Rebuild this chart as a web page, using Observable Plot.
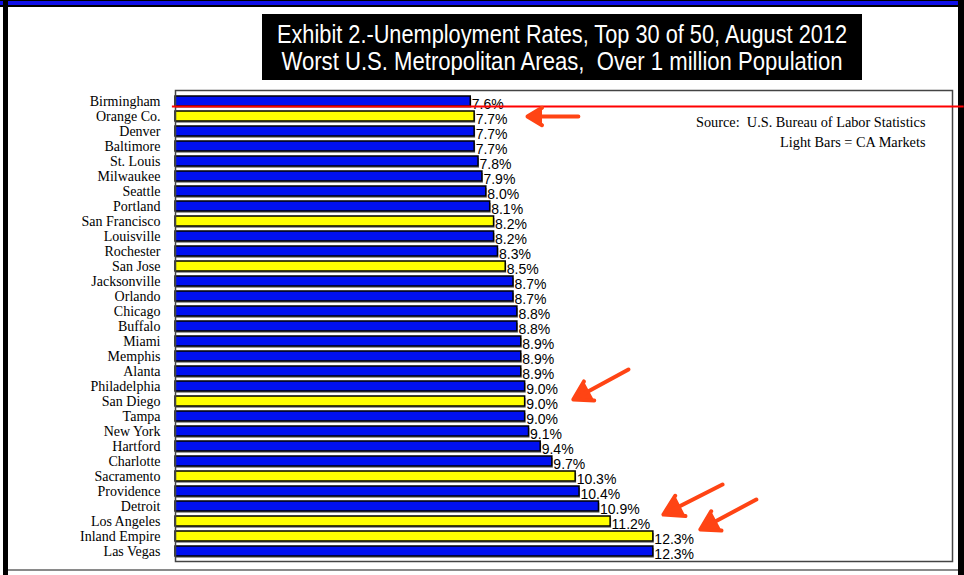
<!DOCTYPE html>
<html>
<head>
<meta charset="utf-8">
<script src="https://cdn.jsdelivr.net/npm/d3@7"></script>
<script src="https://cdn.jsdelivr.net/npm/@observablehq/plot@0.6"></script>
<style>
  html, body { margin: 0; padding: 0; background: #fff; }
  #page { position: relative; width: 964px; height: 575px; overflow: hidden; background: #fff; }
  .bd { position: absolute; }
  #topband { left: 0; top: 0; width: 964px; height: 7px;
    background: linear-gradient(to bottom, #000 0px, #000 1px, #1010e8 1px, #1010e8 5px, #000 5px, #000 7px); }
  #leftband { left: 3px; top: 0; width: 5px; height: 575px; background: #000; }
  #rightband { left: 958px; top: 0; width: 6px; height: 575px; background: #000; }
  #bottomline { left: 8px; top: 569px; width: 950px; height: 2px; background: #8a8a8a; }
  #title { position: absolute; left: 262px; top: 14px; width: 600px; height: 66px; background: #000;
    color: #fff; font-family: "Liberation Sans", Arial, sans-serif; font-size: 25px; line-height: 27px; }
  #title span { position: absolute; left: 50%; white-space: pre; transform-origin: 0 50%; }
  #chart { position: absolute; left: 0; top: 0; }
</style>
</head>
<body>
<div id="page">
  <div class="bd" id="topband"></div>
  <div class="bd" id="leftband"></div>
  <div class="bd" id="rightband"></div>
  <div class="bd" id="bottomline"></div>
  <div id="title"></div>
  <div id="chart"></div>
</div>
<script>
const titleLines = ["Exhibit 2.-Unemployment Rates, Top 30 of 50, August 2012", "Worst U.S. Metropolitan Areas,  Over 1 million Population"];
const cities = ["Birmingham","Orange Co.","Denver","Baltimore","St. Louis","Milwaukee","Seattle","Portland","San Francisco","Louisville","Rochester","San Jose","Jacksonville","Orlando","Chicago","Buffalo","Miami","Memphis","Alanta","Philadelphia","San Diego","Tampa","New York","Hartford","Charlotte","Sacramento","Providence","Detroit","Los Angeles","Inland Empire","Las Vegas"];
const rates = [7.6,7.7,7.7,7.7,7.8,7.9,8.0,8.1,8.2,8.2,8.3,8.5,8.7,8.7,8.8,8.8,8.9,8.9,8.9,9.0,9.0,9.0,9.1,9.4,9.7,10.3,10.4,10.9,11.2,12.3,12.3];
const caMarkets = ["Orange Co.","San Francisco","San Jose","San Diego","Sacramento","Los Angeles","Inland Empire"];
const sourceLines = ["Source:  U.S. Bureau of Labor Statistics", "Light Bars = CA Markets"];
// annotation arrows: from (x1, y1) to (x2, y2), in data units / categories
const arrows = [
  {x1: 10.37, y1: "Orange Co.", x2: 9.06, y2: "Orange Co.", shift: 0},
  {x1: 11.66, y1: "Alanta", x2: 10.24, y2: "San Diego", shift: -2},
  {x1: 14.08, y1: "Providence", x2: 12.56, y2: "Los Angeles", shift: -7},
  {x1: 14.95, y1: "Detroit", x2: 13.51, y2: "Inland Empire", shift: -7}
];
const highlightCity = "Birmingham";

// title (condensed to match the narrow typeface of the original)
const titleWidths = [570, 561];
const titleTops = [7, 34];
const titleEl = document.getElementById("title");
titleLines.forEach((t, i) => {
  const sp = document.createElement("span");
  sp.textContent = t;
  sp.style.top = titleTops[i] + "px";
  titleEl.appendChild(sp);
  const w = sp.getBoundingClientRect().width;
  const s = titleWidths[i] / w;
  sp.style.transform = `scaleX(${s}) translateX(-50%)`;
});

const data = cities.map((c, i) => ({city: c, rate: rates[i], ca: caMarkets.includes(c)}));

const arrowMarks = arrows.map(a => Plot.arrow([a], {
  x1: "x1", y1: "y1", x2: "x2", y2: "y2", dy: a.shift,
  stroke: "#ff4414", fill: "#ff4414", strokeWidth: 4, headLength: 16, headAngle: 62, bend: 0
}));

const chart = Plot.plot({
  width: 964,
  height: 575,
  marginLeft: 175,
  marginRight: 12,
  marginTop: 90,
  marginBottom: 14,
  style: {background: "transparent", fontFamily: "'Liberation Serif', 'Times New Roman', serif", fontSize: "14px", color: "#000", overflow: "visible"},
  x: {domain: [0, 20], axis: null},
  y: {domain: cities, paddingInner: 0.35, paddingOuter: 0.27, tickSize: 0, tickPadding: 15, label: null},
  color: {domain: [false, true], range: ["#0010f0", "#ffff00"]},
  marks: [
    Plot.barX(data, {x: "rate", y: "city", fill: "#9a9a9a", dx: 1, dy: 2}),
    Plot.barX(data, {x: "rate", y: "city", fill: "ca", stroke: "#000", strokeWidth: 1.5}),
    Plot.text(data, {x: "rate", y: "city", text: d => d.rate.toFixed(1) + "%", textAnchor: "start", dx: 1, dy: 3,
      fontFamily: "'Liberation Sans', Arial, sans-serif", fontSize: 14, fill: "#000", letterSpacing: "0.4px"}),
    Plot.frame({stroke: "#444", strokeWidth: 1.5}),
    Plot.text([sourceLines[0]], {text: d => d, frameAnchor: "top-right", dx: -27, dy: 32, textAnchor: "end", lineAnchor: "middle", fontSize: 14.3, fill: "#000"}),
    Plot.text([sourceLines[1]], {text: d => d, frameAnchor: "top-right", dx: -27, dy: 52, textAnchor: "end", lineAnchor: "middle", fontSize: 14.3, fill: "#000"}),
    Plot.ruleY([highlightCity], {y: d => d, x1: -0.08, x2: 20.3, dy: 5, stroke: "#ff0000", strokeWidth: 2}),
    ...arrowMarks
  ]
});
document.getElementById("chart").appendChild(chart);
</script>
</body>
</html>
